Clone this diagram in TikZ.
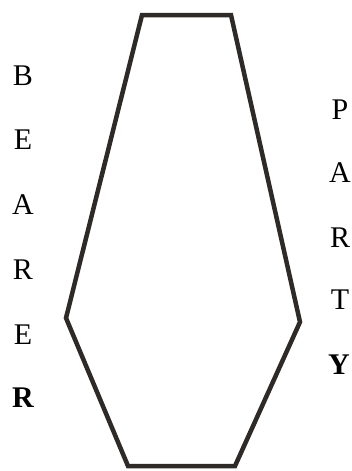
\documentclass[tikz,border=0pt]{standalone}
\usepackage{fontspec}
\setmainfont{Liberation Serif}
\usepackage{tikz}
\usetikzlibrary{positioning}

\begin{document}
\begin{tikzpicture}[x=1pt,y=-1pt]
\tikzstyle{every node}+=[inner sep=0pt]
\tikzstyle{letter}=[font=\fontsize{30}{32}\selectfont, anchor=center]
\tikzstyle{boldletter}=[letter, font=\fontsize{30}{32}\selectfont\bfseries]
\useasboundingbox (0,0) rectangle (351,471);
% outline
\coordinate (tl) at (142,15);
\coordinate (tr) at (231,15);
\coordinate (rv) at (300,322);
\coordinate (br) at (235,466);
\coordinate (bl) at (128,466);
\coordinate (lv) at (66,318);
\draw [black!90!olive, line width=4.5pt, line join=miter] (tl) -- (tr) -- (rv) -- (br) -- (bl) -- (lv) -- cycle;
% left word
\node [letter] (b1) at (23,76) {B};
\node [letter] (e1) at (23,140) {E};
\node [letter] (a1) at (23,205) {A};
\node [letter] (r1) at (23,270) {R};
\node [letter] (e2) at (23,335) {E};
\node [boldletter] (r2) at (23,398) {R};
% right word
\node [letter] (p1) at (340,110) {P};
\node [letter] (a2) at (340,173) {A};
\node [letter] (r3) at (340,238) {R};
\node [letter] (t1) at (340,300) {T};
\node [boldletter] (y1) at (339,365) {Y};
\end{tikzpicture}
\end{document}
